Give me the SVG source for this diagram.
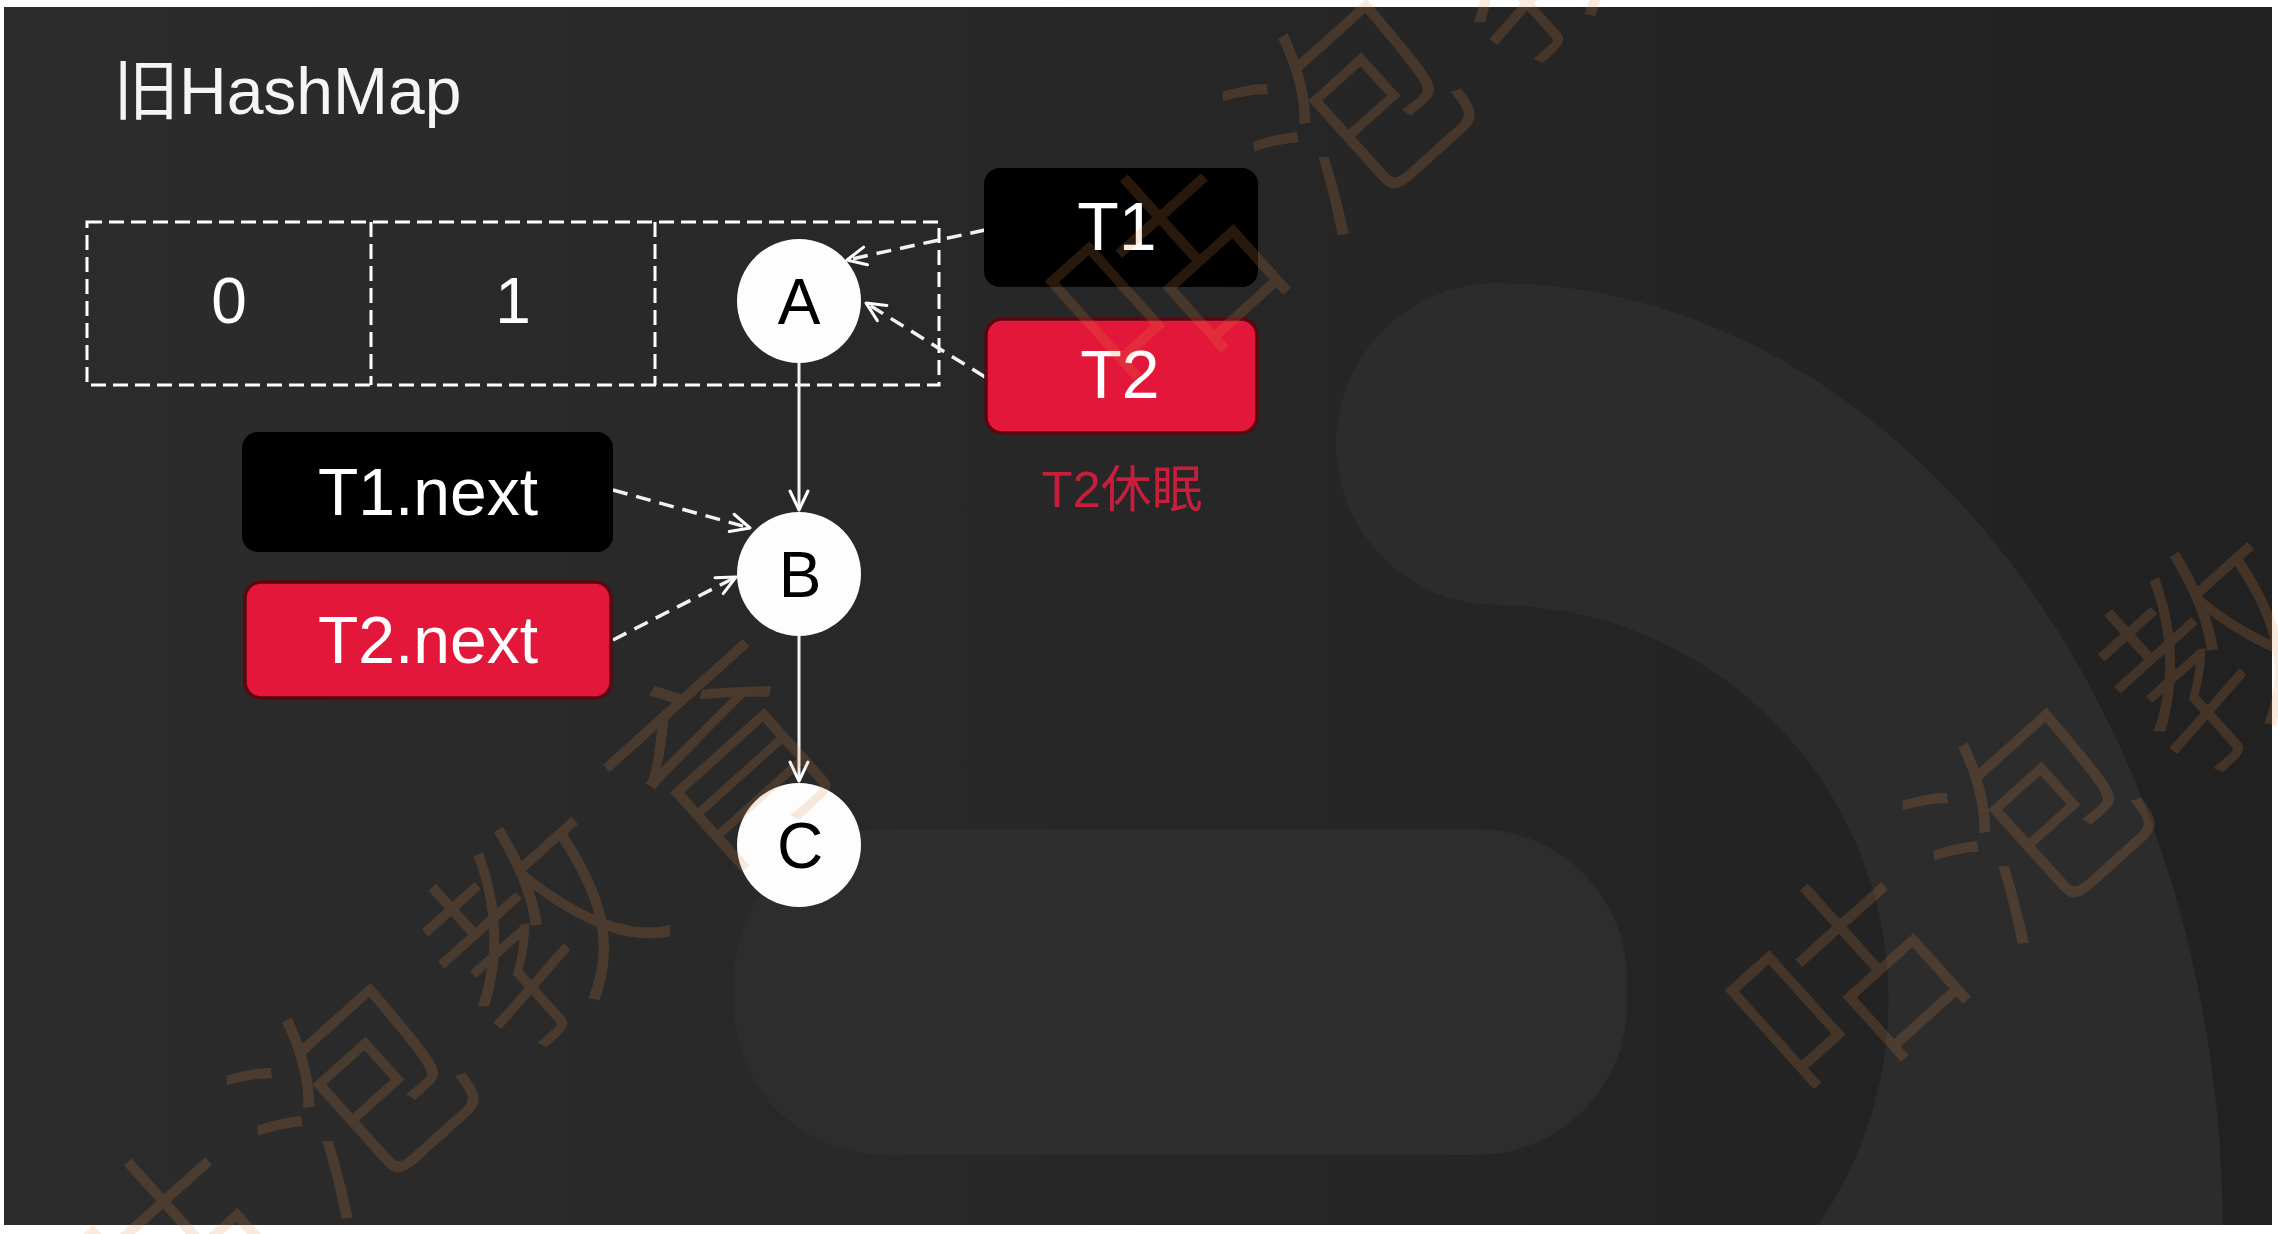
<svg xmlns="http://www.w3.org/2000/svg" width="2278" height="1234" viewBox="0 0 2278 1234">
<defs>
  <linearGradient id="bg" x1="0" y1="0" x2="1" y2="0">
    <stop offset="0" stop-color="#2c2c2c"/>
    <stop offset="0.5" stop-color="#272727"/>
    <stop offset="1" stop-color="#212121"/>
  </linearGradient>
  <marker id="arr" viewBox="0 0 24 24" refX="22" refY="12" markerWidth="24" markerHeight="24" markerUnits="userSpaceOnUse" orient="auto">
    <path d="M3,3 L22,12 L3,21" fill="none" stroke="#ffffff" stroke-width="3" stroke-linecap="round" stroke-linejoin="round"/>
  </marker>
  <style>
    .lbl { font-family: "Liberation Sans", Arial, "Noto Sans CJK SC", sans-serif; fill: #ffffff; text-anchor: middle; }
    .nodeTxt { font-family: "Liberation Sans", Arial, sans-serif; fill: #000000; text-anchor: middle; font-size: 64px; }
    .circ { fill: #fdfdfd; }
    .boxBlack { fill: #000000; }
    .boxRed { fill: #e3173a; stroke: #5a0711; stroke-width: 3.5; }
    .solid { stroke: #f2f2f2; stroke-width: 3; fill: none; marker-end: url(#arr); }
    .dash { stroke: #f2f2f2; stroke-width: 3.5; fill: none; stroke-dasharray: 15 9; marker-end: url(#arr); }
    .cell { stroke: #ffffff; stroke-width: 3; fill: none; stroke-dasharray: 15 7; }
    .wm { font-family: "Noto Sans CJK SC", "Noto Sans CJK TC", sans-serif; font-weight: 300; font-size: 215px; letter-spacing: 35px; fill: #e08a40; fill-opacity: 0.18; }
  </style>
</defs>

<rect x="0" y="0" width="2278" height="1234" fill="#ffffff"/>
<rect x="4" y="7" width="2268" height="1218" fill="url(#bg)"/>

<g id="backdrop" fill="#2c2c2c">
  <path d="M1494,283 A729,951 0 0 1 2223,1225 L1818,1225 A395,395 0 0 0 1500,605 A161,161 0 0 1 1494,283 Z"/>
  <rect x="734" y="829" width="893" height="326" rx="150" ry="150" fill="#2d2d2d"/>
</g>

<text id="title" x="113" y="114" font-family="'Liberation Sans', 'Noto Sans CJK SC', sans-serif" font-size="66" fill="#f5f5f5">旧HashMap</text>

<g id="array">
  <rect class="cell" x="87" y="222" width="852" height="163"/>
  <line class="cell" x1="371" y1="222" x2="371" y2="385"/>
  <line class="cell" x1="655" y1="222" x2="655" y2="385"/>
  <text class="lbl" x="229" y="323" font-size="64">0</text>
  <text class="lbl" x="513" y="323" font-size="64">1</text>
</g>

<g id="connectors">
  <line class="solid" x1="799" y1="363" x2="799" y2="510"/>
  <line class="solid" x1="799" y1="636" x2="799" y2="781"/>
  <line class="dash" x1="613" y1="490" x2="750" y2="528"/>
  <line class="dash" x1="613" y1="640" x2="736" y2="577"/>
  <line class="dash" x1="985" y1="230" x2="847" y2="260"/>
  <line class="dash" x1="985" y1="377" x2="866" y2="303"/>
</g>

<g id="node-A">
  <circle class="circ" cx="799" cy="301" r="62"/>
  <text class="nodeTxt" x="799" y="324">A</text>
</g>
<g id="node-B">
  <circle class="circ" cx="799" cy="574" r="62"/>
  <text class="nodeTxt" x="800" y="597">B</text>
</g>
<g id="node-C">
  <circle class="circ" cx="799" cy="845" r="62"/>
  <text class="nodeTxt" x="800" y="868">C</text>
</g>

<g id="node-T1next">
  <rect class="boxBlack" x="242" y="432" width="371" height="120" rx="16"/>
  <text class="lbl" x="428" y="515" font-size="66">T1.next</text>
</g>
<g id="node-T2next">
  <rect class="boxRed" x="245" y="582" width="366" height="116" rx="16"/>
  <text class="lbl" x="428" y="663" font-size="66">T2.next</text>
</g>
<g id="node-T1">
  <rect class="boxBlack" x="984" y="168" width="274" height="119" rx="16"/>
  <text class="lbl" x="1117" y="250" font-size="68">T1</text>
</g>
<g id="node-T2">
  <rect class="boxRed" x="986" y="319" width="271" height="114" rx="16"/>
  <text class="lbl" x="1120" y="398" font-size="68">T2</text>
</g>
<g id="label-T2sleep">
  <text x="1122" y="507" font-family="'Liberation Sans', 'Noto Sans CJK SC', sans-serif" font-size="50" fill="#c81e3c" text-anchor="middle" textLength="161" lengthAdjust="spacingAndGlyphs">T2休眠</text>
</g>

<g id="watermark">
  <text class="wm" transform="translate(140,1392) rotate(-42)">咕泡教育</text>
  <text class="wm" transform="translate(1136,408) rotate(-42)">咕泡教育</text>
  <text class="wm" transform="translate(1816,1117) rotate(-42)">咕泡教育</text>
</g>
</svg>
